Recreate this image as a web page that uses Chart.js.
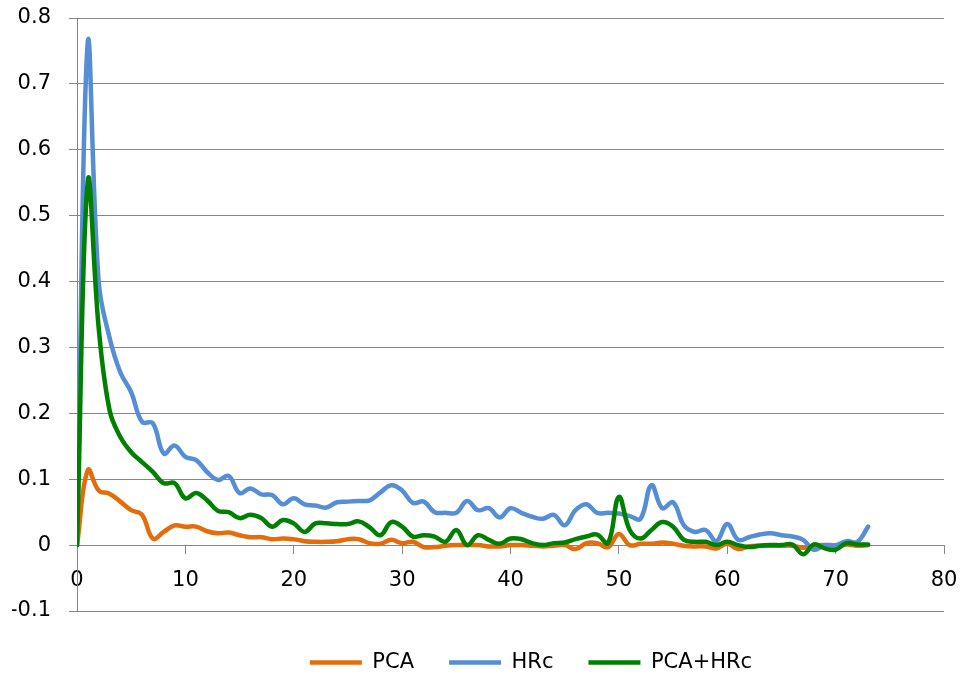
<!DOCTYPE html>
<html>
<head>
<meta charset="utf-8">
<script src="https://cdn.jsdelivr.net/npm/chart.js@4"></script>
<style>
  html, body { margin: 0; padding: 0; background: #ffffff; }
  #wrap { width: 961px; height: 676px; position: relative; }
</style>
</head>
<body>
<div id="wrap"><canvas id="c" width="961" height="676"></canvas></div>
<script>
const xValues = [0,1,2,3,4,5,6,7,8,9,10,11,12,13,14,15,16,17,18,19,20,21,22,23,24,25,26,27,28,29,30,31,32,33,34,35,36,37,38,39,40,41,42,43,44,45,46,47,48,49,50,51,52,53,54,55,56,57,58,59,60,61,62,63,64,65,66,67,68,69,70,71,72,73];

const pcaValues = [0,0.114,0.083,0.078,0.066,0.053,0.046,0.010,0.020,0.030,0.028,0.028,0.021,0.018,0.019,0.015,0.012,0.012,0.009,0.010,0.009,0.006,0.005,0.005,0.006,0.009,0.009,0.003,0.002,0.008,0.003,0.005,-0.003,-0.003,-0.001,0,0,0,-0.002,-0.002,0,0,-0.001,-0.002,-0.001,0,-0.006,0.003,0.003,-0.003,0.017,0.000,0.002,0.002,0.004,0.002,-0.001,-0.002,-0.002,-0.005,0.002,-0.006,-0.002,-0.001,-0.001,-0.001,-0.001,-0.004,-0.001,0,-0.002,0.001,-0.001,0];

const hrcValues = [0,0.765,0.40,0.315,0.262,0.232,0.187,0.185,0.139,0.151,0.134,0.129,0.111,0.099,0.105,0.079,0.086,0.077,0.076,0.062,0.071,0.062,0.060,0.057,0.065,0.066,0.067,0.068,0.080,0.091,0.083,0.064,0.066,0.050,0.049,0.049,0.067,0.053,0.056,0.042,0.056,0.049,0.043,0.040,0.046,0.030,0.053,0.062,0.049,0.049,0.048,0.044,0.040,0.091,0.056,0.065,0.030,0.020,0.023,0.006,0.032,0.008,0.012,0.016,0.018,0.015,0.013,0.008,-0.007,0,0,0.006,0.005,0.028];

const comboValues = [0,0.553,0.33,0.205,0.164,0.141,0.126,0.111,0.094,0.094,0.071,0.079,0.068,0.052,0.050,0.041,0.046,0.041,0.028,0.038,0.033,0.020,0.033,0.033,0.032,0.032,0.036,0.027,0.015,0.035,0.028,0.013,0.015,0.013,0.005,0.023,0.000,0.015,0.008,0.002,0.010,0.009,0.003,0.000,0.003,0.004,0.009,0.013,0.016,0.003,0.073,0.023,0.010,0.023,0.035,0.028,0.008,0.005,0.005,0.000,0.005,0.000,-0.003,-0.001,0,0,0.001,-0.014,0.001,-0.005,-0.007,0.003,0.001,0.001];

const seriesNames = ['PCA', 'HRc', 'PCA+HRc'];
const xTickValues = [0,10,20,30,40,50,60,70,80];
const yTickValues = [-0.1,0,0.1,0.2,0.3,0.4,0.5,0.6,0.7,0.8];

const colors = ['#E46C0A', '#558ED5', '#008000'];
const allSeries = [pcaValues, hrcValues, comboValues];

function toPoints(vals) { return vals.map((v, i) => ({ x: xValues[i], y: v })); }

Chart.defaults.font.family = '"DejaVu Sans", sans-serif';
Chart.defaults.font.size = 21;
Chart.defaults.color = '#000000';

const gridColor = '#868686';

const legendShift = {
  id: 'legendShift',
  afterLayout(chart) {
    const lg = chart.legend;
    if (!lg) return;
    lg.left += 53; lg.right += 53;
    lg.top += 6; lg.bottom += 6;
  }
};

new Chart(document.getElementById('c'), {
  type: 'line',
  data: {
    datasets: allSeries.map((vals, i) => ({
      label: seriesNames[i],
      data: toPoints(vals),
      borderColor: colors[i],
      backgroundColor: colors[i],
      borderWidth: 4.5,
      borderCapStyle: 'round',
      borderJoinStyle: 'round',
      pointRadius: 0,
      pointHoverRadius: 0,
      pointStyle: 'line',
      tension: 0.4,
      fill: false,
      order: 3 - i
    }))
  },
  options: {
    responsive: false,
    animation: false,
    events: [],
    layout: { padding: { left: 12, right: 17, top: 18, bottom: 0 } },
    scales: {
      x: {
        type: 'linear',
        position: { y: 0 },
        min: 0, max: 80,
        afterBuildTicks: (s) => { s.ticks = xTickValues.map(v => ({ value: v })); },
        afterFit: (s) => { s.height = 13; s.paddingLeft = 0; s.paddingRight = 0; },
        ticks: { padding: 15, maxRotation: 0, autoSkip: false },
        grid: { drawOnChartArea: false, drawTicks: true, tickLength: 8, color: gridColor, lineWidth: 1 },
        border: { display: true, color: gridColor, width: 1 }
      },
      y: {
        type: 'linear',
        min: -0.1, max: 0.8,
        afterBuildTicks: (s) => { s.ticks = yTickValues.map(v => ({ value: v })); },
        afterFit: (s) => { s.width = 65; s.paddingTop = 12; s.paddingBottom = 12; },
        ticks: { padding: 18, autoSkip: false,
          callback: (v) => String(Math.round(v * 10) / 10) },
        grid: { color: gridColor, lineWidth: 1, tickLength: 8 },
        border: { display: true, color: gridColor, width: 1 }
      }
    },
    plugins: {
      legend: {
        position: 'bottom',
        maxHeight: 65,
        labels: {
          usePointStyle: true,
          pointStyleWidth: 52,
          padding: 35,
          sort: (a, b) => a.datasetIndex - b.datasetIndex
        }
      },
      tooltip: { enabled: false }
    }
  },
  plugins: [legendShift]
});
</script>
</body>
</html>
